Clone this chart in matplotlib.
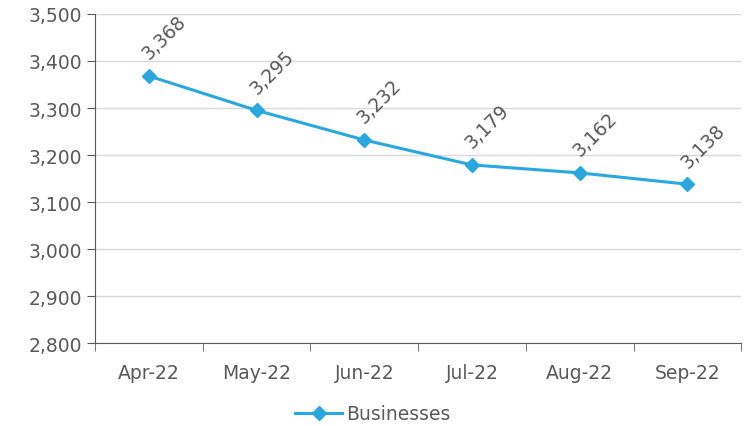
import matplotlib
matplotlib.use("Agg")
import matplotlib.pyplot as plt
from matplotlib.ticker import FuncFormatter, FixedLocator

# data
months = ["Apr-22", "May-22", "Jun-22", "Jul-22", "Aug-22", "Sep-22"]
businesses = [3368, 3295, 3232, 3179, 3162, 3138]

line_color = "#29A8E0"
text_color = "#595959"
fs = 13.5

plt.rcParams['font.family'] = ['DejaVu Sans']

fig = plt.figure(figsize=(7.48, 4.27), dpi=100)
ax = fig.add_axes([0.127, 0.194, 0.864, 0.771])

x = list(range(len(months)))
ax.plot(x, businesses, color=line_color, lw=2.2, marker="D", markersize=7,
        label="Businesses", zorder=3)

for xi, v in zip(x, businesses):
    ax.annotate(f"{v:,}", (xi, v), xytext=(11, 28), textcoords="offset points",
                rotation=45, ha="center", va="center", fontsize=fs,
                color=text_color, rotation_mode="anchor")

ax.set_ylim(2800, 3500)
ax.set_yticks(range(2800, 3501, 100))
ax.yaxis.set_major_formatter(FuncFormatter(lambda v, p: f"{int(v):,}"))
ax.set_xlim(-0.5, len(months) - 0.5)
ax.set_xticks(x)
ax.set_xticklabels(months)
ax.xaxis.set_minor_locator(FixedLocator([i - 0.5 for i in range(len(months) + 1)]))
ax.tick_params(axis="x", which="major", length=0, pad=14, labelsize=fs, labelcolor=text_color)
ax.tick_params(axis="x", which="minor", length=6, color="#595959")
ax.tick_params(axis="y", length=6, color="#595959", labelsize=fs, labelcolor=text_color, pad=3)

ax.grid(axis="y", color="#D9D9D9", lw=1)
ax.set_axisbelow(True)
for s in ["top", "right"]:
    ax.spines[s].set_visible(False)
ax.spines["left"].set_color("#595959")
ax.spines["bottom"].set_color("#595959")

ax.legend(loc="upper center", bbox_to_anchor=(0.43, -0.135), frameon=False,
          fontsize=fs, labelcolor=text_color, handlelength=2.5, handletextpad=0.2)

fig.savefig("out.png", dpi=100)
